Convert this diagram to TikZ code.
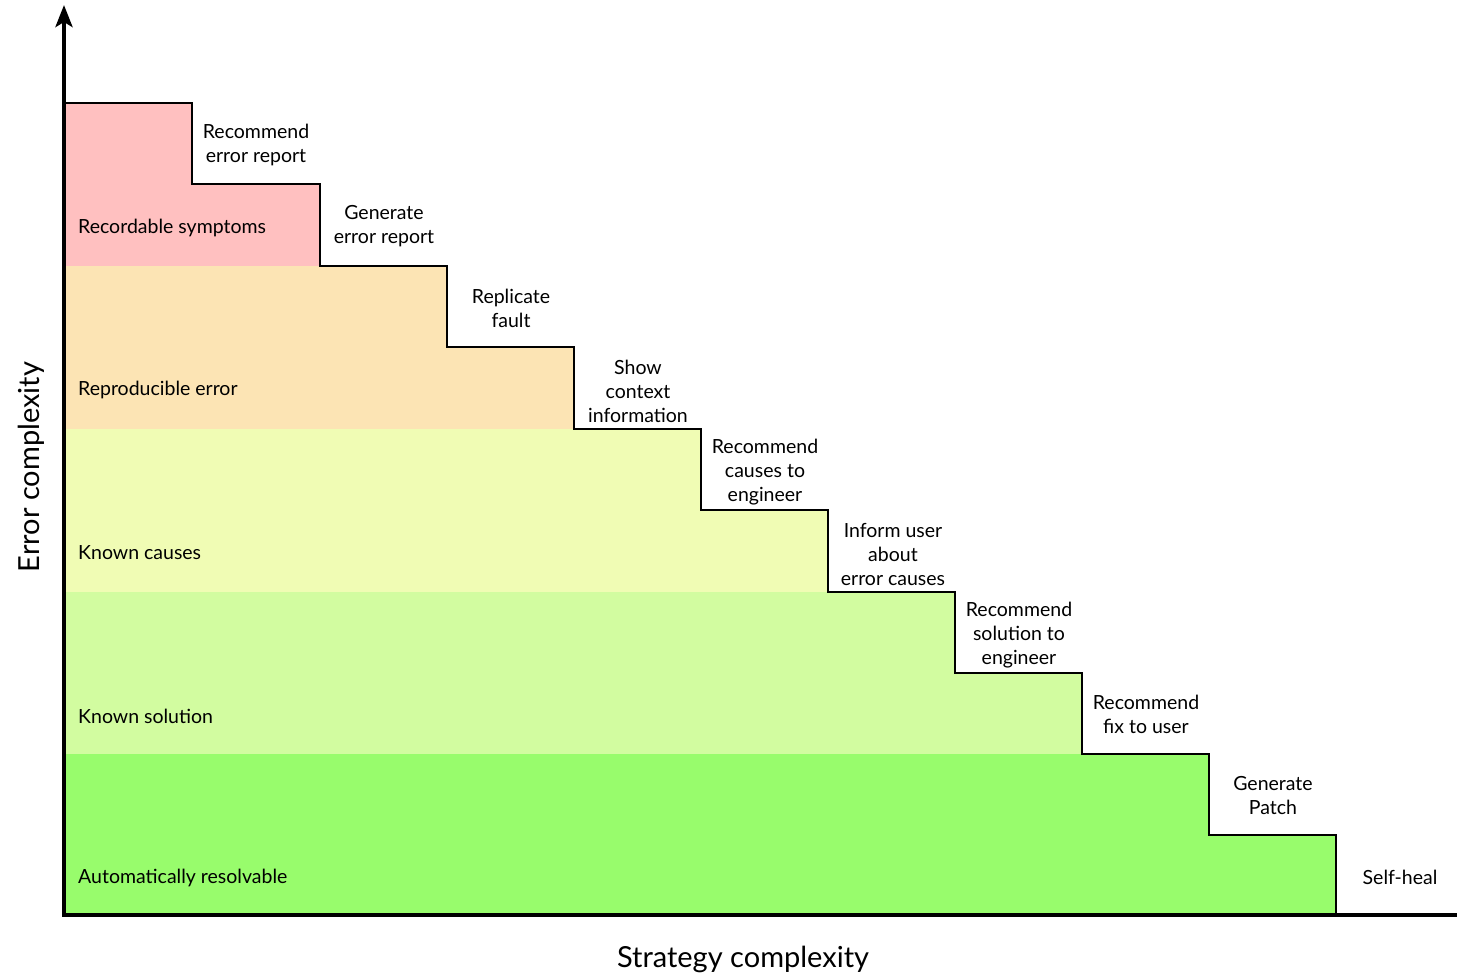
\documentclass[tikz,border=0pt]{standalone}
\usepackage{fontspec}
\setmainfont{Lato}
\usetikzlibrary{arrows.meta}
\definecolor{bandA}{HTML}{FFC0C0}
\definecolor{bandB}{HTML}{FCE4B4}
\definecolor{bandC}{HTML}{F0FCB4}
\definecolor{bandD}{HTML}{D2FCA0}
\definecolor{bandE}{HTML}{98FC6C}
\tikzset{
  steplabel/.style={align=center, font=\fontsize{19.5}{24}\selectfont, inner sep=0pt},
  bandlabel/.style={anchor=west, font=\fontsize{19.5}{24}\selectfont, inner sep=0pt},
  axislabel/.style={font=\fontsize{29}{34}\selectfont, inner sep=0pt},
  axisline/.style={line width=4pt},
  stairline/.style={line width=2.8pt, line join=miter},
}
\begin{document}
\begin{tikzpicture}[x=1pt,y=-1pt]
\useasboundingbox (0,0) rectangle (1457,975);
% bands
\fill[bandA] (64,103) -- (192,103) -- (192,184) -- (320,184) -- (320,266) -- (64,266) -- cycle;
\fill[bandB] (64,266) -- (447,266) -- (447,347) -- (574,347) -- (574,429) -- (64,429) -- cycle;
\fill[bandC] (64,429) -- (701,429) -- (701,510) -- (828,510) -- (828,592) -- (64,592) -- cycle;
\fill[bandD] (64,592) -- (955,592) -- (955,673) -- (1082,673) -- (1082,754) -- (64,754) -- cycle;
\fill[bandE] (64,754) -- (1209,754) -- (1209,835) -- (1336,835) -- (1336,915) -- (64,915) -- cycle;
% staircase
\draw[stairline] (64,103) -- (192,103) -- (192,184) -- (320,184) -- (320,266) -- (447,266) -- (447,347) -- (574,347) -- (574,429) -- (701,429) -- (701,510) -- (828,510) -- (828,592) -- (955,592) -- (955,673) -- (1082,673) -- (1082,754) -- (1209,754) -- (1209,835) -- (1336,835) -- (1336,915);
% axes
\coordinate (origin) at (64,915);
\coordinate (ytop) at (64,5);
\coordinate (xend) at (1457,915);
\draw[axisline, -{Stealth[length=22pt,width=17pt,inset=5pt]}] (origin) -- (ytop);
\draw[axisline] ([xshift=-2pt]origin) -- (xend);
% axis labels
\node[axislabel, rotate=90] (ylab) at (31,467) {Error complexity};
\node[axislabel] (xlab) at (743,959) {Strategy complexity};
% band labels
\node[bandlabel] (b1) at (78,228) {Recordable symptoms};
\node[bandlabel] (b2) at (78,390) {Reproducible error};
\node[bandlabel] (b3) at (78,553) {Known causes};
\node[bandlabel] (b4) at (78,716) {Known solution};
\node[bandlabel] (b5) at (78,878) {Automatically resolvable};
% step labels
\node[steplabel] (s1) at (256,145) {Recommend\\error report};
\node[steplabel] (s2) at (384,226.5) {Generate\\error report};
\node[steplabel] (s3) at (511,308) {Replicate\\fault};
\node[steplabel] (s4) at (638,391) {Show\\context\\information};
\node[steplabel] (s5) at (765,472.5) {Recommend\\causes to\\engineer};
\node[steplabel] (s6) at (893,554) {Inform user\\about\\error causes};
\node[steplabel] (s7) at (1019,635.5) {Recommend\\solution to\\engineer};
\node[steplabel] (s8) at (1146,714) {Recommend\\fix to user};
\node[steplabel] (s9) at (1273,796) {Generate\\Patch};
\node[steplabel] (s10) at (1400,877) {Self-heal};
\end{tikzpicture}
\end{document}
